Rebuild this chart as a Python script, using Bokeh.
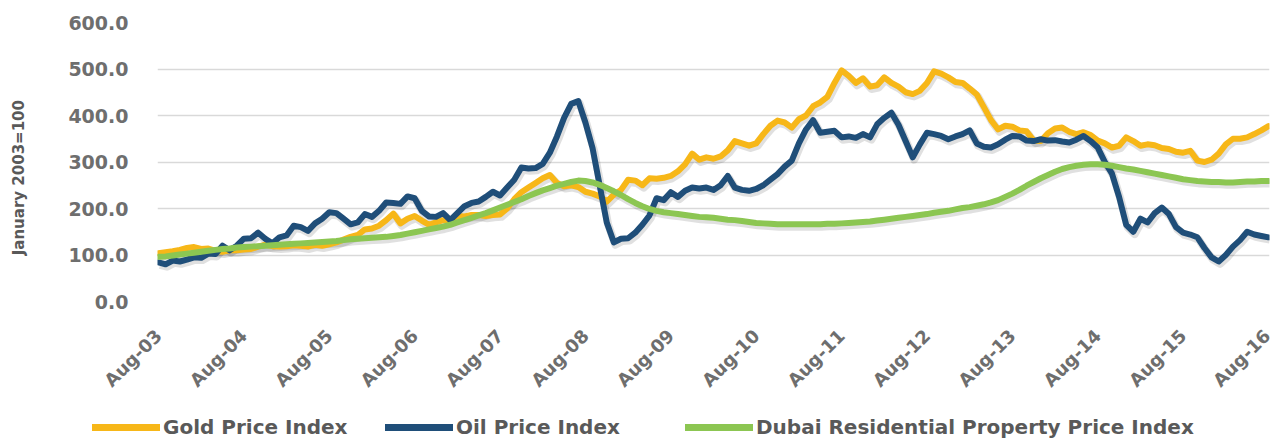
import math
import numpy as np
from bokeh.plotting import figure
from bokeh.models import Range1d, FixedTicker, NumeralTickFormatter, Legend, LegendItem
from bokeh.embed import file_html
from bokeh.resources import INLINE

# ---------------- data ----------------
x_labels = ["Aug-03", "Aug-04", "Aug-05", "Aug-06", "Aug-07", "Aug-08", "Aug-09",
            "Aug-10", "Aug-11", "Aug-12", "Aug-13", "Aug-14", "Aug-15", "Aug-16"]
series_names = ["Gold Price Index", "Oil Price Index", "Dubai Residential Property Price Index"]
y_title = "January 2003=100"

gold = [104, 106, 108, 111, 115, 117, 113, 114, 109, 107, 110, 110,
        112, 113, 118, 122, 119, 118, 119, 121, 120, 118, 122, 120,
        123, 127, 133, 139, 143, 155, 157, 163, 175, 189, 168, 178,
        184, 174, 165, 170, 175, 175, 184, 183, 186, 186, 184, 186,
        187, 200, 220, 235, 245, 255, 265, 272, 255, 248, 250, 246,
        236, 232, 226, 215, 230, 240, 262, 260, 250, 265, 264, 266,
        270, 280, 295, 318, 305, 310, 307, 312, 325, 345, 340, 335,
        340, 360, 378, 389, 385, 374, 392, 400, 420, 428, 440, 470,
        497, 485, 470, 480, 462, 465, 482, 470, 462, 450, 446, 453,
        470, 495, 490, 482, 472, 470, 458, 445, 418, 390, 370, 378,
        376, 368, 366, 346, 345, 362, 372, 374, 365, 360, 364, 358,
        346, 340, 331, 335, 353, 345, 335, 338, 336, 330, 328, 322,
        320, 324, 303, 300, 305, 318, 338, 350, 350, 353, 360, 368,
        377]

oil = [84, 80, 88, 86, 90, 95, 94, 103, 102, 120, 110, 120,
       135, 136, 148, 135, 125, 138, 142, 163, 160, 152, 168, 178,
       192, 190, 178, 166, 170, 188, 182, 195, 213, 212, 210, 226,
       222, 195, 183, 182, 190, 175, 190, 205, 212, 215, 225, 236,
       228, 245, 262, 288, 286, 287, 296, 320, 355, 395, 425, 431,
       385, 330, 250, 170, 127, 135, 136, 148, 165, 185, 222, 218,
       235, 225, 238, 245, 243, 245, 240, 250, 270, 245, 240, 238,
       242, 250, 262, 274, 290, 303, 340, 370, 390, 363, 365, 367,
       353, 355, 352, 360, 353, 381, 395, 406, 380, 345, 310, 338,
       363, 360, 356, 349, 355, 360, 368, 340, 333, 331, 338, 348,
       356, 355, 346, 345, 349, 346, 347, 344, 342, 348, 356, 345,
       331, 300, 275, 225, 165, 150, 178, 170, 190, 202, 188, 160,
       148, 144, 138, 115, 95, 86, 100, 118, 132, 150, 144, 141,
       138]

dubai = [96, 97, 99, 101, 103, 105, 107, 109, 111, 113, 114, 116,
         117, 118, 119, 120, 121, 122, 123, 124, 125, 126, 127, 128,
         129, 130, 132, 134, 135, 136, 137, 138, 139, 141, 143, 146,
         149, 152, 155, 158, 161, 165, 170, 175, 180, 185, 190, 196,
         202, 208, 214, 220, 227, 233, 239, 244, 249, 253, 257, 260,
         259, 256, 251, 244, 237, 229, 220, 212, 205, 199, 195, 192,
         190, 188, 186, 184, 182, 181, 180, 178, 176, 175, 173, 171,
         169, 168, 167, 166, 166, 166, 166, 166, 166, 166, 167, 167,
         168, 169, 170, 171, 172, 174, 176, 178, 180, 182, 184, 186,
         188, 191, 193, 195, 198, 201, 203, 206, 209, 213, 218, 225,
         232, 240, 249, 257, 265, 272, 279, 285, 289, 292, 294, 295,
         295, 294, 292, 289, 286, 284, 281, 278, 275, 272, 269, 266,
         263, 261, 259, 258, 257, 257, 256, 256, 257, 258, 258, 259,
         259]

months = list(range(len(gold)))
series = [gold, oil, dubai]

# ---------------- styling ----------------
colors = ["#F7B718", "#1F4E79", "#8CC652"]
FONT = "DejaVu Sans"
TICK_COLOR = "#6E6E6E"
TEXT_COLOR = "#595959"

p = figure(width=1274, height=401, output_backend="svg", toolbar_location=None,
           x_range=Range1d(-0.14, 156.14), y_range=Range1d(0, 600),
           min_border_left=157, min_border_top=22, min_border_right=5,
           min_border_bottom=100)
p.outline_line_color = None
p.background_fill_color = "white"
p.border_fill_color = "white"

# grid
p.xgrid.grid_line_color = None
p.ygrid.grid_line_color = "#D9D9D9"
p.ygrid.grid_line_width = 1.3

# y axis
p.yaxis.ticker = FixedTicker(ticks=[0, 100, 200, 300, 400, 500, 600])
p.yaxis.formatter = NumeralTickFormatter(format="0.0")
p.yaxis.axis_line_color = None
p.yaxis.major_tick_line_color = None
p.yaxis.minor_tick_line_color = None
p.yaxis.major_tick_out = 0
p.yaxis.minor_tick_out = 0
p.yaxis.major_label_standoff = 29
p.yaxis.major_label_text_font = FONT
p.yaxis.major_label_text_font_style = "bold"
p.yaxis.major_label_text_font_size = "19px"
p.yaxis.major_label_text_color = TICK_COLOR
# trailing no-break spaces push the centred title slightly downward, as in the reference
p.yaxis.axis_label = y_title + "\u00a0" * 6
p.yaxis.axis_label_standoff = 37
p.yaxis.axis_label_text_font = FONT
p.yaxis.axis_label_text_font_style = "bold"
p.yaxis.axis_label_text_font_size = "15px"
p.yaxis.axis_label_text_color = TEXT_COLOR

# x axis
tick_pos = [12 * k for k in range(len(x_labels))]
p.xaxis.ticker = FixedTicker(ticks=tick_pos)
p.xaxis.major_label_overrides = {t: lab for t, lab in zip(tick_pos, x_labels)}
p.xaxis.major_label_orientation = math.pi / 4
p.xaxis.axis_line_color = None
p.xaxis.major_tick_line_color = None
p.xaxis.minor_tick_line_color = None
p.xaxis.major_tick_out = 0
p.xaxis.minor_tick_out = 0
p.xaxis.major_label_standoff = 31
p.xaxis.major_label_text_font = FONT
p.xaxis.major_label_text_font_style = "bold"
p.xaxis.major_label_text_font_size = "18px"
p.xaxis.major_label_text_color = TICK_COLOR

# soft drop shadows under each line
x_arr = np.array(months, dtype=float)
for s in series:
    p.line(x_arr + 0.2, np.array(s, dtype=float) - 5.0,
           line_color="black", line_alpha=0.12, line_width=8, line_join="round")

for s, c in zip(series, colors):
    p.line(months, s, line_color=c, line_width=6, line_join="round", line_cap="round")

# ---------------- legend strip (its own canvas, so nothing is clipped) ----------------
lg = figure(width=1274, height=40, output_backend="svg", toolbar_location=None,
            x_range=Range1d(0, 1), y_range=Range1d(0, 1),
            x_axis_type=None, y_axis_type=None, min_border=0)
lg.outline_line_color = None
lg.grid.grid_line_color = None
lg.background_fill_color = "white"
lg.border_fill_color = "white"

legend_x = [92, 385, 685]
for name, s, c, lx in zip(series_names, series, colors, legend_x):
    # same series, lying outside this strip's visible range: only its legend swatch shows
    r = lg.line(months, s, line_color=c, line_width=7, line_cap="round")
    leg = Legend(items=[LegendItem(label=name, renderers=[r])],
                 location=(lx, 2), orientation="horizontal",
                 glyph_width=68, glyph_height=24, label_standoff=3,
                 padding=0, margin=0, spacing=0,
                 border_line_color=None, background_fill_alpha=0,
                 label_text_font=FONT, label_text_font_style="bold",
                 label_text_font_size="20px", label_text_color=TEXT_COLOR)
    lg.add_layout(leg, "center")

open("out.html", "w").write(file_html([p, lg], INLINE))
